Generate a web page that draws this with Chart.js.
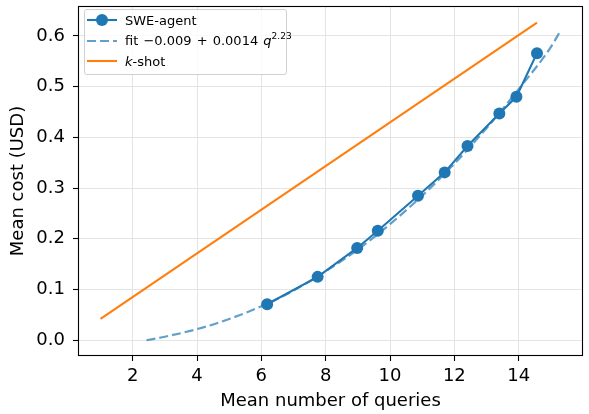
<!DOCTYPE html>
<html lang="en">
<head>
    <meta charset="UTF-8">
    <title>Mean cost vs mean number of queries</title>
    <script src="https://cdn.jsdelivr.net/npm/chart.js"></script>
    <style>
        body {
            margin: 0;
            background: #fff;
            font-family: "DejaVu Sans", sans-serif;
        }
        .wrap {
            position: relative;
            width: 589px;
            height: 414px;
            overflow: hidden;
        }
        #legend {
            position: absolute;
            left: 84px;
            top: 9px;
            width: 201px;
            padding: 0 0 2px 0;
            background: rgba(255, 255, 255, 0.8);
            border: 1px solid #d0d0d0;
            border-radius: 3px;
            font-size: 13px;
            color: #000;
        }
        .row {
            display: flex;
            align-items: center;
            height: 20.5px;
            white-space: nowrap;
        }
        .row svg {
            margin-left: 2px;
            margin-right: 8px;
            flex: none;
        }
        .row i { font-style: italic; }
        .row sup { font-size: 9px; vertical-align: 6px; line-height: 0; }
        .formula { word-spacing: 1px; }
    </style>
</head>
<body>
    <div class="wrap">
        <canvas id="chart" width="589" height="414"></canvas>
        <div id="legend"></div>
    </div>

    <script>
        // SWE-agent measurements
        const agentQueries = [6.18, 7.75, 8.98, 9.62, 10.87, 11.70, 12.41, 13.40, 13.93, 14.57];
        const agentCost = [0.071, 0.125, 0.182, 0.216, 0.285, 0.331, 0.383, 0.447, 0.480, 0.566];

        // fitted curve
        const fitQueries = [2.43, 3, 4, 5, 6, 7, 8, 9, 10, 11, 12, 13, 14, 15, 15.3];
        const fitCost = [0.000, 0.007, 0.022, 0.042, 0.067, 0.098, 0.136, 0.179, 0.229, 0.285, 0.348, 0.418, 0.495, 0.578, 0.610];

        // k-shot line
        const kshotQueries = [1.0, 14.57];
        const kshotCost = [0.042, 0.626];

        const xTicks = [2, 4, 6, 8, 10, 12, 14];
        const yTicks = [0.0, 0.1, 0.2, 0.3, 0.4, 0.5, 0.6];

        const blue = '#1f77b4';
        const fitBlue = 'rgba(31, 119, 180, 0.7)';
        const orange = '#ff7f0e';
        const font = '"DejaVu Sans", sans-serif';

        // where the plot frame should sit
        const areaTop = 3, areaRight = 586;

        function pts(xs, ys) {
            return xs.map((x, i) => ({ x: x, y: ys[i] }));
        }

        function noPadding(scale) {
            scale.paddingLeft = scale.paddingRight = scale.paddingTop = scale.paddingBottom = 0;
            scale.getPadding = () => ({ left: 0, top: 0, right: 0, bottom: 0 });
        }

        // full black frame round the plot area
        const framePlugin = {
            id: 'frame',
            afterDraw(chart) {
                const a = chart.chartArea;
                const c = chart.ctx;
                c.save();
                c.strokeStyle = '#000';
                c.lineWidth = 1.1;
                c.strokeRect(a.left + 0.5, a.top + 0.5, a.right - a.left - 1, a.bottom - a.top - 1);
                c.restore();
            }
        };

        const ctx = document.getElementById('chart').getContext('2d');
        const chart = new Chart(ctx, {
            type: 'line',
            data: {
                datasets: [{
                    label: 'SWE-agent',
                    data: pts(agentQueries, agentCost),
                    borderColor: blue,
                    backgroundColor: blue,
                    borderWidth: 2.1,
                    pointRadius: 6,
                    pointBorderWidth: 0,
                    pointBackgroundColor: blue,
                    tension: 0,
                    order: 3
                }, {
                    label: 'fit',
                    data: pts(fitQueries, fitCost),
                    borderColor: fitBlue,
                    borderWidth: 2.2,
                    borderDash: [9, 4],
                    pointRadius: 0,
                    cubicInterpolationMode: 'monotone',
                    order: 2
                }, {
                    label: 'k-shot',
                    data: pts(kshotQueries, kshotCost),
                    borderColor: orange,
                    borderWidth: 2.1,
                    pointRadius: 0,
                    order: 1
                }]
            },
            options: {
                responsive: false,
                animation: false,
                devicePixelRatio: 1,
                layout: { padding: { top: areaTop, right: 0, left: 0, bottom: 0 } },
                plugins: {
                    legend: { display: false },
                    tooltip: { enabled: false }
                },
                scales: {
                    x: {
                        type: 'linear',
                        min: 0.3,
                        max: 16.0,
                        afterFit(scale) {
                            scale.height = 58;
                            noPadding(scale);
                        },
                        afterBuildTicks(scale) { scale.ticks = xTicks.map(v => ({ value: v })); },
                        grid: {
                            color: '#e4e4e4',
                            lineWidth: 1,
                            tickColor: '#000',
                            tickLength: 5,
                            tickWidth: 1.1
                        },
                        border: { display: false },
                        ticks: {
                            color: '#000',
                            font: { family: font, size: 18 },
                            padding: 5,
                            maxRotation: 0,
                            callback: v => String(v)
                        },
                        title: {
                            display: true,
                            text: 'Mean number of queries',
                            color: '#000',
                            font: { family: font, size: 18 },
                            padding: { top: 0, bottom: 2 }
                        }
                    },
                    y: {
                        type: 'linear',
                        min: -0.031,
                        max: 0.659,
                        afterFit(scale) {
                            scale.width = 78;
                            noPadding(scale);
                        },
                        afterBuildTicks(scale) { scale.ticks = yTicks.map(v => ({ value: v })); },
                        grid: {
                            color: '#e4e4e4',
                            lineWidth: 1,
                            tickColor: '#000',
                            tickLength: 5,
                            tickWidth: 1.1
                        },
                        border: { display: false },
                        ticks: {
                            color: '#000',
                            font: { family: font, size: 18 },
                            padding: 8,
                            callback: v => Number(v).toFixed(1)
                        },
                        title: {
                            display: true,
                            text: 'Mean cost (USD)',
                            color: '#000',
                            font: { family: font, size: 18 },
                            padding: { top: 8, bottom: 0 }
                        }
                    }
                }
            },
            plugins: [framePlugin]
        });

        // if the layout still leaves a gap, widen the canvas (the wrapper clips it) and nudge the top
        const area = chart.chartArea;
        const dRight = Math.round(areaRight - area.right);
        const dTop = Math.round(area.top - areaTop);
        if (dRight !== 0 || dTop !== 0) {
            chart.options.layout.padding.top = Math.max(0, areaTop - dTop);
            if (dRight !== 0) chart.resize(589 + dRight, 414);
            chart.update('none');
        }

        // legend with the fit formula and italic k
        function sample(color, dash, marker) {
            let s = '<svg width="30" height="14"><line x1="0" y1="7" x2="30" y2="7" stroke="' + color +
                '" stroke-width="2.1"' + (dash ? ' stroke-dasharray="' + dash + '"' : '') + '/>';
            if (marker) s += '<circle cx="15" cy="7" r="6" fill="' + color + '"/>';
            return s + '</svg>';
        }
        const ds = chart.data.datasets;
        document.getElementById('legend').innerHTML =
            '<div class="row">' + sample(ds[0].borderColor, null, true) + '<span>' + ds[0].label + '</span></div>' +
            '<div class="row">' + sample(ds[1].borderColor, '9,4', false) +
            '<span class="formula">fit &minus;0.009 + 0.0014 <i>q</i><sup>2.23</sup></span></div>' +
            '<div class="row">' + sample(ds[2].borderColor, null, false) + '<span><i>k</i>-shot</span></div>';
    </script>
</body>
</html>
